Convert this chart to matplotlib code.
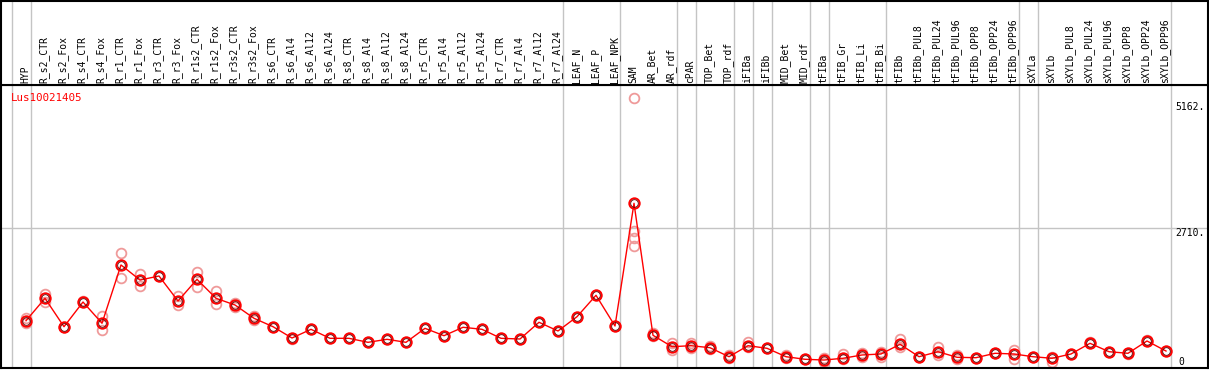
import matplotlib
matplotlib.use("Agg")
import matplotlib.pyplot as plt

categories = [
    "HYP", "R_s2_CTR", "R_s2_Fox", "R_s4_CTR", "R_s4_Fox", "R_r1_CTR", "R_r1_Fox",
    "R_r3_CTR", "R_r3_Fox", "R_r1s2_CTR", "R_r1s2_Fox", "R_r3s2_CTR", "R_r3s2_Fox",
    "R_s6_CTR", "R_s6_Al4", "R_s6_Al12", "R_s6_Al24", "R_s8_CTR", "R_s8_Al4",
    "R_s8_Al12", "R_s8_Al24", "R_r5_CTR", "R_r5_Al4", "R_r5_Al12", "R_r5_Al24",
    "R_r7_CTR", "R_r7_Al4", "R_r7_Al12", "R_r7_Al24", "LEAF_N", "LEAF_P", "LEAF_NPK",
    "SAM", "AR_Bet", "AR_rdf", "cPAR", "TOP_Bet", "TOP_rdf", "iFIBa", "iFIBb",
    "MID_Bet", "MID_rdf", "tFIBa", "tFIB_Gr", "tFIB_Li", "tFIB_Bi", "tFIBb",
    "tFIBb_PUL8", "tFIBb_PUL24", "tFIBb_PUL96", "tFIBb_OPP8", "tFIBb_OPP24",
    "tFIBb_OPP96", "sXYLa", "sXYLb", "sXYLb_PUL8", "sXYLb_PUL24", "sXYLb_PUL96",
    "sXYLb_OPP8", "sXYLb_OPP24", "sXYLb_OPP96",
]

means = [
    835, 1288, 714, 1213, 783, 1962, 1658, 1739, 1234, 1672, 1288, 1153, 884,
    714, 485, 661, 479, 479, 398, 459, 398, 681, 532, 702, 661, 479, 465, 803, 627,
    916, 1349, 728, 3209, 540, 309, 330, 289, 107, 330, 277, 107, 55, 40, 75, 142,
    162, 358, 107, 208, 95, 87, 176, 162, 107, 75, 162, 378, 208, 176, 425, 222,
]

replicates = [
    [896, 783], [1369, 1219], [714, 700], [1213, 1230], [930, 647],
    [2198, 1693], [1780, 1543], [1739], [1341, 1147], [1820, 1523],
    [1436, 1173], [1199, 1106], [930, 850], [714], [485, 470], [661], [479],
    [479], [398], [459], [398], [681], [532], [702], [661], [479], [465],
    [803], [627], [916], [1349], [728], [5333, 2649, 2514, 2352], [586, 520],
    [384, 243], [390, 283], [324, 257], [142, 75], [411, 309], [277, 290],
    [142, 75], [55], [75, 6], [156, 55], [176, 107], [208, 107], [459, 309],
    [107, 95], [309, 142], [142, 55], [87], [176, 190], [243, 55], [107],
    [107, 6], [162], [378, 400], [208], [176, 160], [425, 440], [222],
]

group_ends = [-1, 0, 28, 31, 34, 35, 37, 38, 39, 41, 42, 45, 52, 53, 60]

W, H = 1209, 370
fig = plt.figure(figsize=(W / 100, H / 100), dpi=100)

# pixel geometry of the plot region
px_left, px_right, px_top, px_head, px_bottom = 0.5, 1207.5, 0.5, 85, 368
x0, dx = 26, 19          # pixel of first category, spacing
y0, ky = 362, 0.04945    # pixel of value 0, px per unit

xlim = ((px_left - x0) / dx, (px_right - x0) / dx)
ylim = ((y0 - px_bottom) / ky, (y0 - px_head) / ky)

ax = fig.add_axes([px_left / W, (H - px_bottom) / H,
                   (px_right - px_left) / W, (px_bottom - px_head) / H])
hd = fig.add_axes([px_left / W, (H - px_head) / H,
                   (px_right - px_left) / W, (px_head - px_top) / H], sharex=ax)

ax.set_xlim(*xlim)
ax.set_ylim(*ylim)
hd.set_ylim(0, 1)

for a in (ax, hd):
    a.set_xticks([])
    a.set_yticks([])
    for s in a.spines.values():
        s.set_color("black")
        s.set_linewidth(1.5)
    for g in group_ends:
        a.axvline(g + 0.26, color="#c4c4c4", lw=1, zorder=0)

ax.axhline(2710, color="#c4c4c4", lw=1, zorder=0)

xs = list(range(len(categories)))

# replicate points
for i, reps in enumerate(replicates):
    ax.plot([i] * len(reps), reps, "o", ms=7, mfc="none", mec="#ef9a9a",
            mew=1.3, zorder=2, clip_on=False)

ax.plot(xs, means, "-", color="red", lw=1, zorder=3)
ax.plot(xs, means, "o", ms=7.5, mfc="none", mec="red", mew=1.4, zorder=4)
ax.plot(xs, means, "o", ms=5.5, mfc="none", mec="#5a0000", mew=0.6, zorder=5)

mono = "DejaVu Sans Mono"
for i, name in enumerate(categories):
    hd.text(i - 0.05, 0.025, name, rotation=90, ha="center", va="bottom",
            fontsize=7, family=mono)

ax.text(10 / (px_right - px_left), 1 - 13 / (px_bottom - px_head), "Lus10021405",
        transform=ax.transAxes, color="red", fontsize=7.8, family=mono,
        ha="left", va="center")

ytr = ax.get_yaxis_transform()
xlab = (1175 - px_left) / (px_right - px_left)
ax.text(xlab, 5162, "5162.", transform=ytr, fontsize=7, family=mono,
        ha="left", va="center")
ax.text(xlab, 2710, "2710.", transform=ytr, fontsize=7, family=mono,
        ha="left", va="top")
ax.text(xlab + 3 / (px_right - px_left), 0, "0", transform=ytr, fontsize=7,
        family=mono, ha="left", va="center")

fig.savefig("out.png", dpi=100)
